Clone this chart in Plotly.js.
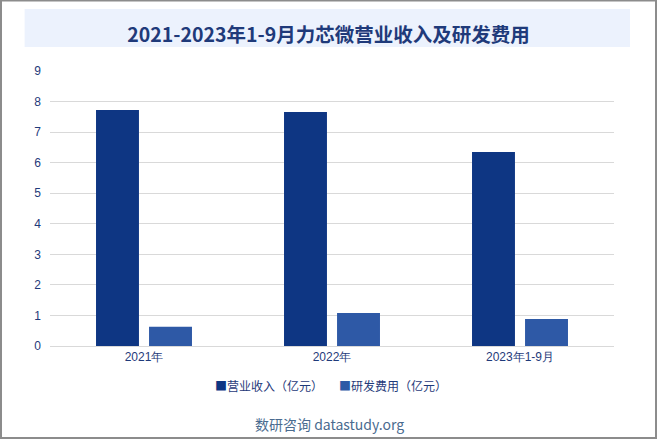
<!DOCTYPE html>
<html>
<head>
<meta charset="utf-8">
<script src="https://cdn.plot.ly/plotly-3.0.1.min.js"></script>
<style>
  html, body { margin: 0; padding: 0; background: #fff; }
  #chart { width: 657px; height: 439px; }
</style>
</head>
<body>
<div id="chart"></div>
<script>
// periods and values (亿元)
var periods = ["2021年", "2022年", "2023年1-9月"];
var seriesNames = ["营业收入（亿元）", "研发费用（亿元）"];
var revenue = [7.72, 7.66, 6.35];
var rdCost = [0.63, 1.08, 0.88];
var yTicks = [0, 1, 2, 3, 4, 5, 6, 7, 8, 9];

var textColor = "#1f3a7a";
var colors = ["#0e3683", "#2e59a6"];

var traces = [
  {
    x: periods,
    y: revenue,
    name: seriesNames[0],
    type: "bar",
    marker: {color: colors[0]},
    hoverinfo: "y"
  },
  {
    x: periods,
    y: rdCost,
    name: seriesNames[1],
    type: "bar",
    marker: {color: colors[1]},
    hoverinfo: "y"
  }
];

// legend drawn as text with small square markers (like the original)
var legendX = [0.289, 0.509];
var legendNotes = seriesNames.map(function(n, i) {
  return {
    text: "<span style='color:" + colors[i] + "'>■</span>" + n,
    xref: "paper", yref: "paper",
    x: legendX[i], y: -0.145,
    xanchor: "left", yanchor: "middle",
    showarrow: false,
    font: {size: 12, color: textColor}
  };
});

var layout = {
  width: 657,
  height: 439,
  margin: {l: 50, r: 43, t: 71, b: 93},
  paper_bgcolor: "#ffffff",
  plot_bgcolor: "#ffffff",
  font: {family: "Noto Sans CJK SC, Arial, sans-serif", color: textColor, size: 12},
  title: {
    text: "<b>2021-2023年1-9月力芯微营业收入及研发费用</b>",
    font: {size: 19.5, color: textColor, family: "Noto Sans CJK SC, serif"},
    x: 0.5,
    xanchor: "center",
    y: 0.921,
    yanchor: "middle"
  },
  barmode: "group",
  bargap: 0.436,
  bargroupgap: 0.19,
  showlegend: false,
  xaxis: {
    tickfont: {size: 12, color: textColor, family: "Liberation Sans, Arial, sans-serif"},
    showline: true,
    linecolor: "#d9d9d9",
    ticks: "",
    fixedrange: true
  },
  yaxis: {
    range: [0, 9],
    tickvals: yTicks,
    tickfont: {size: 12, color: textColor, family: "Liberation Sans, Arial, sans-serif"},
    gridcolor: "#d9d9d9",
    zeroline: false,
    ticks: "",
    ticklabelstandoff: 8,
    fixedrange: true
  },
  shapes: [
    {
      type: "rect", xref: "paper", yref: "paper",
      x0: -0.045, x1: 1.0284, y0: 1.0873, y1: 1.2255,
      fillcolor: "#ecf2fd", line: {width: 0}, layer: "below"
    },
    {
      type: "rect", xref: "paper", yref: "paper",
      x0: -0.0869, x1: 1.0745, y0: -0.3345, y1: 1.2564,
      fillcolor: "rgba(0,0,0,0)", line: {color: "#8c8c8c", width: 2}
    }
  ],
  annotations: legendNotes.concat([
    {
      text: "数研咨询 datastudy.org",
      xref: "paper", yref: "paper",
      x: 0.495, y: -0.284,
      xanchor: "center", yanchor: "middle",
      showarrow: false,
      font: {size: 14, color: "#4a6b8f"}
    }
  ])
};

Plotly.newPlot("chart", traces, layout, {displayModeBar: false, staticPlot: true});
</script>
</body>
</html>
